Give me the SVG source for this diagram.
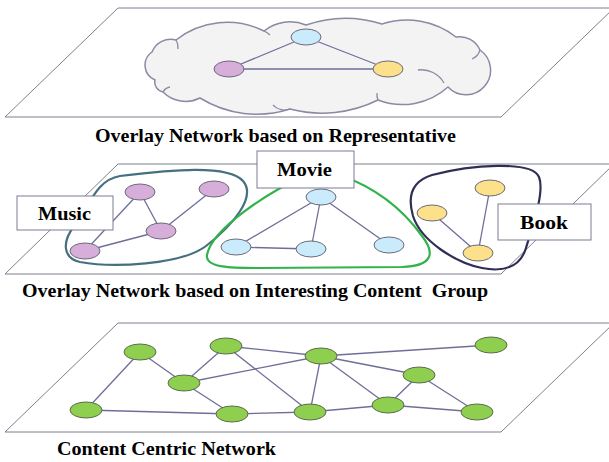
<svg xmlns="http://www.w3.org/2000/svg" width="609" height="462" viewBox="0 0 609 462">
  <style>
    .plane { fill: #ffffff; stroke: #7f7f8f; stroke-width: 1; }
    .edge { stroke: #6e6e9a; stroke-width: 1.3; fill: none; }
    .node { stroke: #6a6a7a; stroke-width: 1; }
    .purple { fill: #d6aed9; }
    .blue { fill: #c9ebfb; }
    .yellow { fill: #fde08a; }
    .green { fill: #8fcf4f; stroke: #5d6b4d; }
    .title { font-family: "Liberation Serif", "Times New Roman", serif; font-weight: bold; font-size: 19px; fill: #000000; }
    .box { fill: #ffffff; stroke: #7a7a95; stroke-width: 1; }
    .boxtext { font-family: "Liberation Serif", "Times New Roman", serif; font-weight: bold; font-size: 19px; fill: #000000; }
    .cloud { fill: #f3f3f4; stroke: #8a8aa2; stroke-width: 1.5; }
    .cusp { fill: none; stroke: #8a8aa2; stroke-width: 1.3; }
  </style>

  <!-- Layer planes -->
  <g id="plane-top">
    <polygon class="plane" points="118,8 614,8 501,117 5,117"/>
  </g>
  <g id="plane-middle">
    <polygon class="plane" points="118,164 614,164 501,274 5,274"/>
  </g>
  <g id="plane-bottom">
    <polygon class="plane" points="118,323 614,323 501,432 5,432"/>
  </g>

  <!-- Representative cloud -->
  <g id="cloud">
    <path class="cloud" d="M155,80 A16,16 0 0 1 152,52 A20,20 0 0 1 176,40 A83,83 0 0 1 264,31 A41,41 0 0 1 306,25 A120,120 0 0 1 382,24 A80,80 0 0 1 456,37 A22,22 0 0 1 480,50 A24.6,24.6 0 1 1 448,87 A68,68 0 0 1 378,100 A126,126 0 0 1 290,109 A108,108 0 0 1 200,98 A32,32 0 0 1 163,92 A10,10 0 0 1 155,80 Z"/>
    <path class="cusp" d="M176,40 A14,14 0 0 1 178,49"/>
    <path class="cusp" d="M264,31 A18,18 0 0 1 270,35"/>
    <path class="cusp" d="M480,50 A14,14 0 0 1 472,59"/>
    <path class="cusp" d="M418,70 A26,26 0 0 1 444,83"/>
    <path class="cusp" d="M378,100 A14,14 0 0 1 377,93"/>
    <path class="cusp" d="M290,109 A16,16 0 0 1 273,105"/>
    <path class="cusp" d="M163,92 A10,10 0 0 1 170,87"/>
  </g>

  <!-- Interest group outlines -->
  <g id="group-music">
    <path d="M120,176 C170,170 228,164 243,181 C257,197 232,226 206,246 C181,265 112,268 80,262 C62,258 62,241 75,225 C90,205 96,180 120,176 Z" fill="none" stroke="#46707f" stroke-width="2.2"/>
  </g>
  <g id="group-movie">
    <path d="M300,178 C270,192 212,228 207,255 C205,268 232,268 260,268 L402,267 C432,266 436,254 422,236 C407,215 382,190 340,175 Z" fill="none" stroke="#2fb34a" stroke-width="2.2"/>
  </g>
  <g id="group-book">
    <path d="M432,175 C470,165 532,160 539,177 C545,192 532,228 526,248 C520,268 502,272 482,268 C456,263 421,241 413,216 C406,192 416,180 432,175 Z" fill="none" stroke="#2f2f55" stroke-width="2.2"/>
  </g>

  <!-- Connectors -->
  <g id="connectors">
    <!-- representative layer -->
    <line class="edge" x1="306" y1="37" x2="229" y2="69"/>
    <line class="edge" x1="306" y1="37" x2="388" y2="69"/>
    <line class="edge" x1="229" y1="69" x2="388" y2="69"/>
    <!-- music group -->
    <line class="edge" x1="140" y1="192" x2="85" y2="251"/>
    <line class="edge" x1="140" y1="192" x2="161" y2="231"/>
    <line class="edge" x1="214" y1="189" x2="161" y2="231"/>
    <line class="edge" x1="161" y1="231" x2="85" y2="251"/>
    <!-- movie group -->
    <line class="edge" x1="321" y1="197" x2="236" y2="247"/>
    <line class="edge" x1="321" y1="197" x2="311" y2="249"/>
    <line class="edge" x1="321" y1="197" x2="389" y2="245"/>
    <line class="edge" x1="236" y1="247" x2="311" y2="249"/>
    <!-- book group -->
    <line class="edge" x1="432" y1="213" x2="478" y2="253"/>
    <line class="edge" x1="490" y1="188" x2="478" y2="253"/>
    <!-- content centric layer -->
    <line class="edge" x1="140" y1="352" x2="184" y2="383"/>
    <line class="edge" x1="140" y1="352" x2="86" y2="410"/>
    <line class="edge" x1="226" y1="346" x2="184" y2="383"/>
    <line class="edge" x1="226" y1="346" x2="321" y2="356"/>
    <line class="edge" x1="226" y1="346" x2="310" y2="412"/>
    <line class="edge" x1="184" y1="383" x2="321" y2="356"/>
    <line class="edge" x1="184" y1="383" x2="232" y2="414"/>
    <line class="edge" x1="86" y1="410" x2="232" y2="414"/>
    <line class="edge" x1="232" y1="414" x2="310" y2="412"/>
    <line class="edge" x1="321" y1="356" x2="310" y2="412"/>
    <line class="edge" x1="321" y1="356" x2="491" y2="345"/>
    <line class="edge" x1="321" y1="356" x2="419" y2="375"/>
    <line class="edge" x1="321" y1="356" x2="388" y2="405"/>
    <line class="edge" x1="419" y1="375" x2="388" y2="405"/>
    <line class="edge" x1="419" y1="375" x2="477" y2="412"/>
    <line class="edge" x1="388" y1="405" x2="310" y2="412"/>
    <line class="edge" x1="388" y1="405" x2="477" y2="412"/>
  </g>

  <!-- Representative nodes -->
  <g id="rep-movie"><ellipse class="node blue" cx="306" cy="37" rx="15" ry="8"/></g>
  <g id="rep-music"><ellipse class="node purple" cx="229" cy="69" rx="15" ry="8"/></g>
  <g id="rep-book"><ellipse class="node yellow" cx="388" cy="69" rx="15" ry="8"/></g>

  <!-- Music nodes -->
  <g id="music-1"><ellipse class="node purple" cx="140" cy="192" rx="15" ry="8"/></g>
  <g id="music-2"><ellipse class="node purple" cx="214" cy="189" rx="15" ry="8"/></g>
  <g id="music-3"><ellipse class="node purple" cx="161" cy="231" rx="15" ry="8"/></g>
  <g id="music-4"><ellipse class="node purple" cx="85" cy="251" rx="15" ry="8"/></g>

  <!-- Movie nodes -->
  <g id="movie-1"><ellipse class="node blue" cx="321" cy="197" rx="15" ry="8"/></g>
  <g id="movie-2"><ellipse class="node blue" cx="236" cy="247" rx="15" ry="8"/></g>
  <g id="movie-3"><ellipse class="node blue" cx="311" cy="249" rx="15" ry="8"/></g>
  <g id="movie-4"><ellipse class="node blue" cx="389" cy="245" rx="15" ry="8"/></g>

  <!-- Book nodes -->
  <g id="book-1"><ellipse class="node yellow" cx="490" cy="188" rx="15" ry="8"/></g>
  <g id="book-2"><ellipse class="node yellow" cx="432" cy="213" rx="15" ry="8"/></g>
  <g id="book-3"><ellipse class="node yellow" cx="478" cy="253" rx="15" ry="8"/></g>

  <!-- Content centric nodes -->
  <g id="ccn-1"><ellipse class="node green" cx="140" cy="352" rx="16" ry="8"/></g>
  <g id="ccn-2"><ellipse class="node green" cx="226" cy="346" rx="16" ry="8"/></g>
  <g id="ccn-3"><ellipse class="node green" cx="321" cy="356" rx="16" ry="8"/></g>
  <g id="ccn-4"><ellipse class="node green" cx="491" cy="345" rx="16" ry="8"/></g>
  <g id="ccn-5"><ellipse class="node green" cx="184" cy="383" rx="16" ry="8"/></g>
  <g id="ccn-6"><ellipse class="node green" cx="419" cy="375" rx="16" ry="8"/></g>
  <g id="ccn-7"><ellipse class="node green" cx="86" cy="410" rx="16" ry="8"/></g>
  <g id="ccn-8"><ellipse class="node green" cx="232" cy="414" rx="16" ry="8"/></g>
  <g id="ccn-9"><ellipse class="node green" cx="310" cy="412" rx="16" ry="8"/></g>
  <g id="ccn-10"><ellipse class="node green" cx="388" cy="405" rx="16" ry="8"/></g>
  <g id="ccn-11"><ellipse class="node green" cx="477" cy="412" rx="16" ry="8"/></g>

  <!-- Group label boxes -->
  <g id="label-music">
    <rect class="box" x="17" y="196" width="96" height="34"/>
    <text class="boxtext" x="38" y="220" textLength="53" lengthAdjust="spacingAndGlyphs">Music</text>
  </g>
  <g id="label-movie">
    <rect class="box" x="257" y="151" width="97" height="37"/>
    <text class="boxtext" x="277" y="176" textLength="55" lengthAdjust="spacingAndGlyphs">Movie</text>
  </g>
  <g id="label-book">
    <rect class="box" x="498" y="204" width="93" height="36"/>
    <text class="boxtext" x="520" y="229" textLength="48" lengthAdjust="spacingAndGlyphs">Book</text>
  </g>

  <!-- Layer titles -->
  <g id="title-top">
    <text class="title" x="95" y="142" textLength="361" lengthAdjust="spacingAndGlyphs">Overlay Network based on Representative</text>
  </g>
  <g id="title-middle">
    <text class="title" x="22" y="297" textLength="466" lengthAdjust="spacingAndGlyphs">Overlay Network based on Interesting Content&#160; Group</text>
  </g>
  <g id="title-bottom">
    <text class="title" x="57" y="455" textLength="219" lengthAdjust="spacingAndGlyphs">Content Centric Network</text>
  </g>
</svg>
